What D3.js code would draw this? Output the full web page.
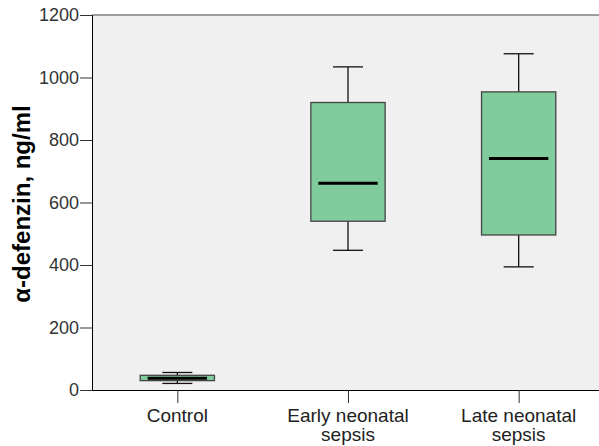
<!DOCTYPE html>
<html>
<head>
<meta charset="utf-8">
<script src="https://cdn.jsdelivr.net/npm/d3@7"></script>
<style>
    body { margin: 0; background: #fff; }
    text { font-family: 'Liberation Sans', Arial, sans-serif; }
</style>
</head>
<body>
<script>
// values
let groups = ['Control', 'Early neonatal sepsis', 'Late neonatal sepsis']
let lowWhisker = [21, 447, 394]
let q1 = [30, 540, 496]
let medians = [38, 662, 741]
let q3 = [47, 920, 954]
let highWhisker = [56, 1034, 1076]
let yTicks = [0, 200, 400, 600, 800, 1000, 1200]

let margin = {top: 15, right: -5, bottom: 56, left: 92}
let W = 599, H = 446
let width = W - margin.left - margin.right
let height = H - margin.top - margin.bottom

let svg = d3.select('body').append('svg')
    .attr('width', W)
    .attr('height', H)

let g = svg.append('g')
    .attr('transform', 'translate(' + margin.left + ',' + margin.top + ')')

let x = d3.scalePoint().domain(groups).range([0, width]).padding(0.5)
let y = d3.scaleLinear().domain([0, 1200]).range([height, 0])

let boxW = x.step() * 0.435

g.append('rect')
    .attr('width', width)
    .attr('height', height)
    .attr('fill', '#f0f0f0')

g.append('line')
    .attr('x1', 0).attr('x2', width)
    .attr('y1', 0).attr('y2', 0)
    .attr('stroke', '#808080')
    .attr('stroke-width', 1.5)

let yAxis = d3.axisLeft(y).tickValues(yTicks).tickSize(12).tickPadding(1).tickFormat(d3.format('d'))
let ya = g.append('g').call(yAxis)
ya.select('.domain').attr('stroke', '#000')
ya.selectAll('.tick line').attr('stroke', '#333')
ya.selectAll('text').attr('font-size', 18).attr('fill', '#333')
    .style('font-family', "'Liberation Sans', Arial, sans-serif")

let xAxis = d3.axisBottom(x).tickSize(13).tickSizeOuter(0).tickFormat('')
let xa = g.append('g').attr('transform', 'translate(0,' + height + ')').call(xAxis)
xa.select('.domain').attr('stroke', '#000')
xa.selectAll('.tick line').attr('stroke', '#333')

let catLines = [['Control'], ['Early neonatal', 'sepsis'], ['Late neonatal', 'sepsis']]
groups.forEach((grp, i) => {
    let t = g.append('text')
        .attr('x', x(grp))
        .attr('y', height + 32)
        .attr('text-anchor', 'middle')
        .attr('font-size', 19)
        .attr('fill', '#222')
    catLines[i].forEach((ln, j) => {
        t.append('tspan').attr('x', x(grp)).attr('dy', j === 0 ? 0 : 19).text(ln)
    })
})

svg.append('text')
    .attr('transform', 'translate(21,' + 204 + ') rotate(-90)')
    .attr('text-anchor', 'middle')
    .attr('dominant-baseline', 'central')
    .attr('font-size', 24)
    .attr('font-weight', 'bold')
    .attr('fill', '#000')
    .text('α-defenzin, ng/ml')

groups.forEach((grp, i) => {
    let cx = x(grp)
    let bg = g.append('g')
    // whiskers
    bg.append('line')
        .attr('x1', cx).attr('x2', cx)
        .attr('y1', y(highWhisker[i])).attr('y2', y(q3[i]))
        .attr('stroke', '#111').attr('stroke-width', 1.3)
    bg.append('line')
        .attr('x1', cx).attr('x2', cx)
        .attr('y1', y(q1[i])).attr('y2', y(lowWhisker[i]))
        .attr('stroke', '#111').attr('stroke-width', 1.3)
    ;[highWhisker[i], lowWhisker[i]].forEach(v => {
        bg.append('line')
            .attr('x1', cx - 15).attr('x2', cx + 15)
            .attr('y1', y(v)).attr('y2', y(v))
            .attr('stroke', '#111').attr('stroke-width', 1.3)
    })
    bg.append('rect')
        .attr('x', cx - boxW / 2)
        .attr('y', y(q3[i]))
        .attr('width', boxW)
        .attr('height', y(q1[i]) - y(q3[i]))
        .attr('fill', '#80cc9c')
        .attr('stroke', '#444')
        .attr('stroke-width', 1.3)
    bg.append('line')
        .attr('x1', cx - boxW * 0.4).attr('x2', cx + boxW * 0.4)
        .attr('y1', y(medians[i])).attr('y2', y(medians[i]))
        .attr('stroke', '#000').attr('stroke-width', 3)
})
</script>
</body>
</html>
